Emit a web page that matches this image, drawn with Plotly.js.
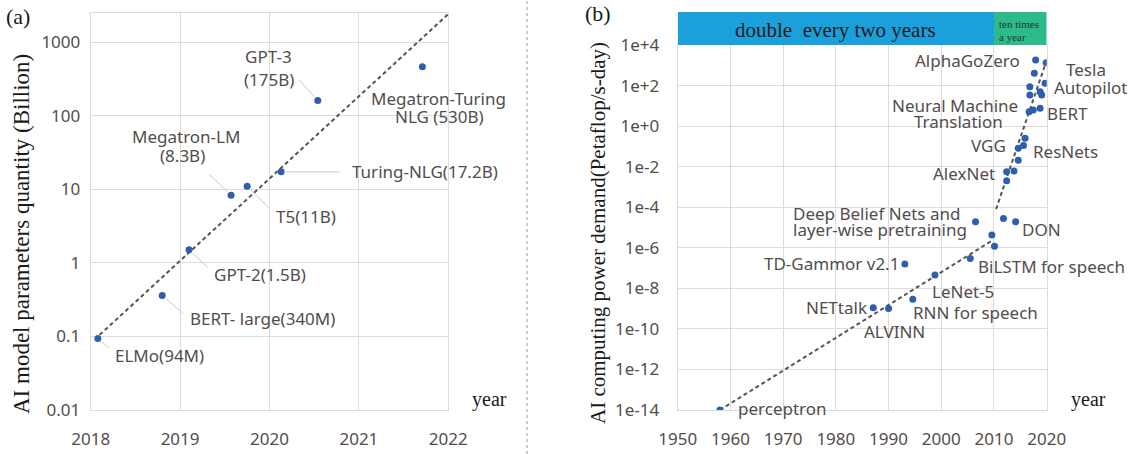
<!DOCTYPE html>
<html>
<head>
<meta charset="utf-8">
<script src="https://cdn.plot.ly/plotly-3.0.1.min.js"></script>
<style>html,body{margin:0;padding:0;background:#fff;}#chart{width:1132px;height:454px;}</style>
</head>
<body>
<div id="chart"></div>
<script>
// ---------- DATA (panel a) ----------
const modelYears  = [2018.08, 2018.8, 2019.1, 2019.57, 2019.75, 2020.13, 2020.54, 2021.71];
const modelParams = [0.094, 0.36, 1.5, 8.3, 11, 17.2, 160, 460];
const modelLabels = [
  ['ELMo(94M)'],
  ['BERT- large(340M)'],
  ['GPT-2(1.5B)'],
  ['Megatron-LM', '(8.3B)'],
  ['T5(11B)'],
  ['Turing-NLG(17.2B)'],
  ['GPT-3', '(175B)'],
  ['Megatron-Turing', 'NLG (530B)']
];
const trendAYears = [2018.1, 2022];
const trendAValues = [0.105, 2400];
const yTicksA = [0.01, 0.1, 1, 10, 100, 1000];
const yTickTextA = ['0.01', '0.1', '1', '10', '100', '1000'];
const xTicksA = [2018, 2019, 2020, 2021, 2022];

// ---------- DATA (panel b) ----------
const aiYears = [1958, 1987.1, 1990, 1993.1, 1994.6, 1998.8, 2005.5, 2006.5, 2009.6, 2010.1,
                 2011.8, 2014.1, 2012.4, 2013.8, 2012.4, 2014.6, 2014.6, 2015.6, 2015.9, 2016.65,
                 2017.45, 2018.75, 2016.8, 2019.05, 2016.8, 2018.75, 2019.7, 2017.65, 2017.9, 2019.9];
const aiCompute = [1e-14, 1.1e-9, 1.0e-9, 1.6e-7, 2.9e-9, 4.6e-8, 3.0e-7, 1.9e-5, 4.3e-6, 1.2e-6,
                   2.8e-5, 1.9e-5, 5.6e-3, 6.2e-3, 2.0e-3, 2.1e-2, 8.1e-2, 0.11, 0.25, 5.1,
                   6.3, 7.6, 34, 34, 87, 50, 129, 400, 1820, 1350];
// index of point -> label lines
const aiLabels = {
  0: ['perceptron'], 1: ['NETtalk'], 2: ['ALVINN'], 3: ['TD-Gammor v2.1'], 4: ['RNN for speech'],
  5: ['LeNet-5'], 6: ['BiLSTM for speech'], 7: ['Deep Belief Nets and', 'layer-wise pretraining'],
  11: ['DON'], 12: ['AlexNet'], 16: ['VGG'], 18: ['ResNets'],
  19: ['Neural Machine', 'Translation'], 21: ['BERT'], 26: ['Tesla', 'Autopilot'], 28: ['AlphaGoZero']
};
const trendB1Years = [1958, 2009.8];
const trendB1Values = [1e-14, 2.4e-6];
const trendB2Years = [2010.4, 2019.8];
const trendB2Values = [8e-5, 1260];
const yTicksB = [1e4, 1e2, 1, 1e-2, 1e-4, 1e-6, 1e-8, 1e-10, 1e-12, 1e-14];
const yTickTextB = ['1e+4', '1e+2', '1e+0', '1e-2', '1e-4', '1e-6', '1e-8', '1e-10', '1e-12', '1e-14'];
const xTicksB = [1950, 1960, 1970, 1980, 1990, 2000, 2010, 2020];
const eraNames = ['double\u00a0 every two years', 'ten times', 'a year'];
const eraBounds = [1950, 2010, 2020];

// ---------- STYLE / PLACEMENT ----------
const W = 1132, H = 454;
const SANS = 'Noto Sans, sans-serif';
const SERIF = 'Liberation Serif, Times New Roman, serif';
const TXT = '#524d4d';
const PT = '#2d5fad';
const GRID = '#dcdcdc';

// label placement for panel a: per line [xanchor, xshift, yshift]; leader [ax, ay]
const placeA = [
  {lines: [['left', 15, -17]], lead: [13, 11]},
  {lines: [['left', 26, -23]], lead: [22, 19]},
  {lines: [['left', 23, -25]], lead: [20, 19]},
  {lines: [['center', -45, 59], ['center', -49, 40]], lead: [-23, -22]},
  {lines: [['left', 27, -30]], lead: [23, 23]},
  {lines: [['left', 69, 0]], lead: [60, 0]},
  {lines: [['center', -49, 44], ['center', -49, 21]], lead: [-20, -22]},
  {lines: [['center', 16, -32], ['center', 17, -50]], lead: null}
];
const placeB = {
  0: [['left', 16, 2]], 1: [['right', -4, 0]], 2: [['center', 6, -23]], 3: [['right', -4, 0]],
  4: [['left', -2, -13]], 5: [['left', -5, -17]], 6: [['left', 6, -8]],
  7: [['right', -14, 8], ['right', -7, -8]], 11: [['left', 4, -8]], 12: [['right', -10, -2]],
  16: [['right', -10, 3]], 18: [['left', 6, -13]], 19: [['right', -9, 6], ['center', -71, -10]],
  21: [['left', 5, -5]], 26: [['center', 41, 14], ['left', 7, -4]], 28: [['right', -14, 0]]
};

const traces = [
  {x: trendAYears, y: trendAValues, xaxis: 'x', yaxis: 'y', mode: 'lines',
   line: {color: '#555', width: 2, dash: '4px,3px'}, hoverinfo: 'skip'},
  {x: modelYears, y: modelParams, xaxis: 'x', yaxis: 'y', mode: 'markers',
   marker: {color: PT, size: 7}, hoverinfo: 'skip'},
  {x: trendB1Years, y: trendB1Values, xaxis: 'x2', yaxis: 'y2', mode: 'lines',
   line: {color: '#555', width: 2, dash: '4px,3px'}, hoverinfo: 'skip'},
  {x: trendB2Years, y: trendB2Values, xaxis: 'x2', yaxis: 'y2', mode: 'lines',
   line: {color: '#555', width: 2, dash: '4px,3px'}, hoverinfo: 'skip'},
  {x: aiYears, y: aiCompute, xaxis: 'x2', yaxis: 'y2', mode: 'markers',
   marker: {color: PT, size: 7}, hoverinfo: 'skip'}
];

const ann = [];
function textAnn(xref, yref, x, y, text, anchor, xs, ys) {
  ann.push({xref, yref, x, y: Math.log10(y), text, showarrow: false, xanchor: anchor, yanchor: 'middle',
            xshift: xs, yshift: ys, font: {family: SANS, size: 17, color: TXT}});
}
modelYears.forEach((yr, i) => {
  const p = placeA[i];
  modelLabels[i].forEach((line, k) => {
    const [a, xs, ys] = p.lines[k];
    textAnn('x', 'y', yr, modelParams[i], line, a, xs, ys);
  });
  if (p.lead) {
    ann.push({xref: 'x', yref: 'y', x: yr, y: Math.log10(modelParams[i]), text: '', showarrow: true,
              arrowhead: 0, arrowwidth: 1, arrowcolor: '#c9c9c9', ax: p.lead[0], ay: p.lead[1],
              standoff: 5});
  }
});
Object.keys(aiLabels).forEach(key => {
  const i = +key;
  aiLabels[i].forEach((line, k) => {
    const [a, xs, ys] = placeB[i][k];
    textAnn('x2', 'y2', aiYears[i], aiCompute[i], line, a, xs, ys);
  });
});

// panel titles, axis titles
function paperAnn(text, px, py, size, extra) {
  ann.push(Object.assign({xref: 'paper', yref: 'paper', x: px / W, y: 1 - py / H, text, showarrow: false,
            xanchor: 'center', yanchor: 'middle', font: {family: SERIF, size, color: '#1a1a1a'}}, extra || {}));
}
paperAnn('(a)', 18, 16, 22);
paperAnn('(b)', 598, 13, 22);
paperAnn('AI model parameters quantity (Billion)', 21, 234, 23, {textangle: -90});
paperAnn('AI computing power demand(Petaflop/s-day)', 598, 233, 21, {textangle: -90});
paperAnn('year', 489, 399, 20);
paperAnn('year', 1088, 399, 20);

// era header
ann.push({xref: 'x2', yref: 'paper', x: (eraBounds[0] + eraBounds[1]) / 2, y: 1 - 30 / H, text: eraNames[0],
          showarrow: false, xanchor: 'center', yanchor: 'middle', font: {family: SERIF, size: 21, color: '#1a1a1a'}});
ann.push({xref: 'x2', yref: 'paper', x: eraBounds[1], xshift: 3, y: 1 - 24 / H, text: eraNames[1],
          showarrow: false, xanchor: 'left', yanchor: 'middle', font: {family: SERIF, size: 11, color: '#173b2c'}});
ann.push({xref: 'x2', yref: 'paper', x: eraBounds[1], xshift: 3, y: 1 - 37 / H, text: eraNames[2],
          showarrow: false, xanchor: 'left', yanchor: 'middle', font: {family: SERIF, size: 11, color: '#173b2c'}});

const barTop = 1 - 12 / H, barBot = 1 - 45 / H;
const shapes = [
  {type: 'rect', xref: 'x2', yref: 'paper', x0: eraBounds[0], x1: eraBounds[1], y0: barBot, y1: barTop,
   fillcolor: '#1ba0dc', line: {width: 0}},
  {type: 'rect', xref: 'x2', yref: 'paper', x0: eraBounds[1], x1: eraBounds[2], y0: barBot, y1: barTop,
   fillcolor: '#2fba8c', line: {width: 0}},
  {type: 'line', xref: 'paper', yref: 'paper', x0: 527 / W, x1: 527 / W, y0: 0, y1: 1,
   line: {color: '#bdbdbd', width: 1.5, dash: '3px,3px'}}
];

const tickFont = {family: SANS, size: 17, color: TXT};
const axCommon = {showgrid: true, gridcolor: GRID, gridwidth: 1, zeroline: false, showline: true,
                  mirror: true, linecolor: GRID, linewidth: 1, ticks: '', tickfont: tickFont, fixedrange: true};

const layout = {
  width: W, height: H, margin: {l: 0, r: 0, t: 0, b: 0}, showlegend: false,
  paper_bgcolor: '#fff', plot_bgcolor: '#fff',
  xaxis: Object.assign({}, axCommon, {domain: [90.7 / W, 448.3 / W], range: [2018, 2022],
         tickvals: xTicksA, ticktext: xTicksA.map(String), anchor: 'y', ticklabelstandoff: 14}),
  yaxis: Object.assign({}, axCommon, {domain: [1 - 410 / H, 1 - 13.3 / H], type: 'log', range: [-2, 3.39],
         tickvals: yTicksA, ticktext: yTickTextA, anchor: 'x', ticklabelstandoff: 6}),
  xaxis2: Object.assign({}, axCommon, {domain: [677.7 / W, 1046.7 / W], range: [1950, 2020],
         tickvals: xTicksB, ticktext: xTicksB.map(String), anchor: 'y2', ticklabelstandoff: 14}),
  yaxis2: Object.assign({}, axCommon, {domain: [1 - 410 / H, 1 - 45 / H], type: 'log', range: [-14, 4],
         tickvals: yTicksB, ticktext: yTickTextB, anchor: 'x2', ticklabelstandoff: 14}),
  annotations: ann,
  shapes: shapes
};

Plotly.newPlot('chart', traces, layout, {staticPlot: true, displayModeBar: false});
</script>
</body>
</html>
